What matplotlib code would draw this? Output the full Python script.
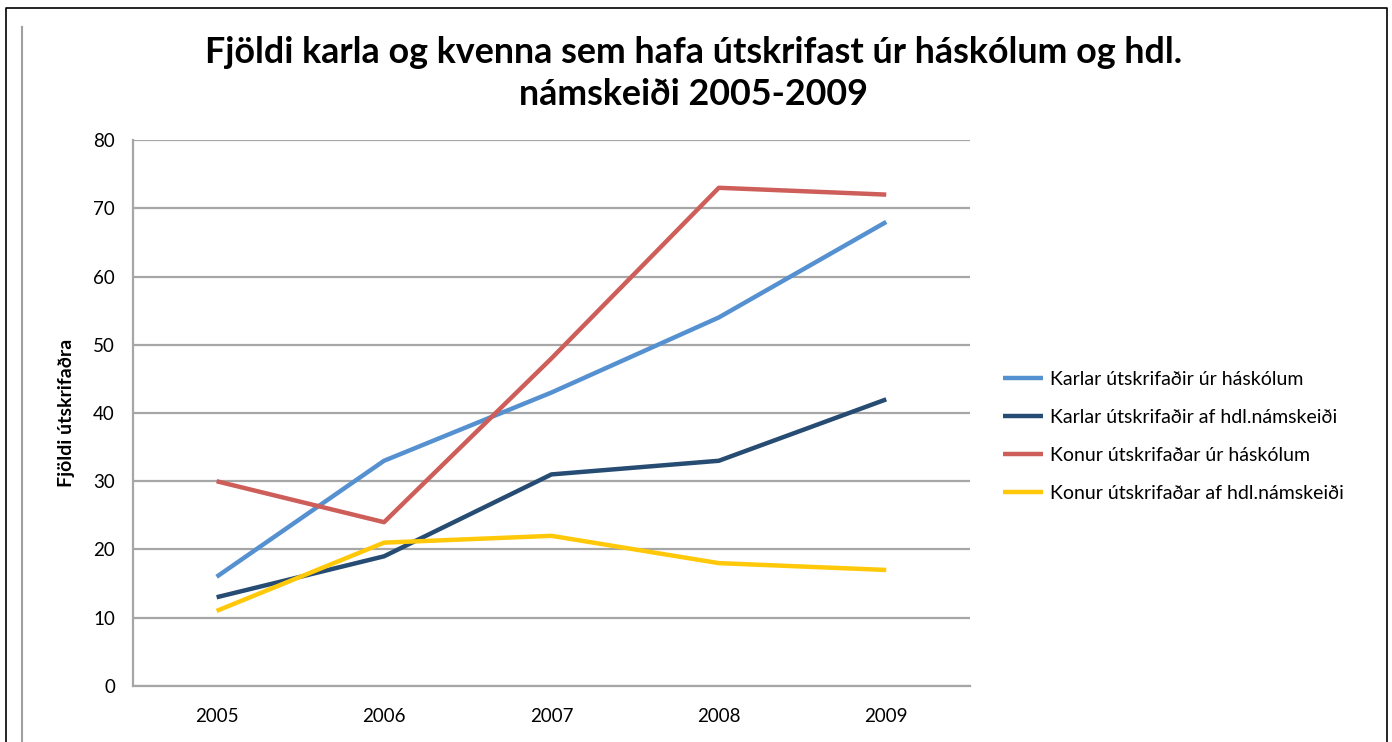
import matplotlib.pyplot as plt
from matplotlib.lines import Line2D

plt.rcParams['font.family'] = ['Lato', 'DejaVu Sans']

years = ['2005', '2006', '2007', '2008', '2009']
karlar_haskolar = [16, 33, 43, 54, 68]
karlar_hdl = [13, 19, 31, 33, 42]
konur_haskolar = [30, 24, 48, 73, 72]
konur_hdl = [11, 21, 22, 18, 17]

series = [
    ('Karlar útskrifaðir úr háskólum', karlar_haskolar, '#5591D0'),
    ('Karlar útskrifaðir af hdl.námskeiði', karlar_hdl, '#264C73'),
    ('Konur útskrifaðar úr háskólum', konur_haskolar, '#CD5E59'),
    ('Konur útskrifaðar af hdl.námskeiði', konur_hdl, '#FFC808'),
]

fig = plt.figure(figsize=(13.92, 7.42), dpi=100)
ax = fig.add_axes([0.0955, 0.0755, 0.6013, 0.7358])

x = range(len(years))
for label, vals, col in series:
    ax.plot(x, vals, color=col, lw=3.2, label=label, solid_capstyle='butt')

ax.set_xlim(-0.5, len(years) - 0.5)
ax.set_ylim(0, 80)
ax.set_yticks(range(0, 81, 10))
ax.set_xticks(list(x))
ax.set_xticklabels(years)
ax.yaxis.grid(True, color='#A6A6A6', lw=1.6)
ax.set_axisbelow(True)
for s in ['top', 'right']:
    ax.spines[s].set_visible(False)
for s in ['left', 'bottom']:
    ax.spines[s].set_color('#A6A6A6')
    ax.spines[s].set_linewidth(1.6)
ax.tick_params(length=0, labelsize=13.5, pad=13)
ax.tick_params(axis='x', pad=16)
ax.set_ylabel('Fjöldi útskrifaðra', fontsize=14, fontweight='bold', labelpad=13)

fig.text(0.498, 0.901, 'Fjöldi karla og kvenna sem hafa útskrifast úr háskólum og hdl.\nnámskeiði 2005-2009',
         ha='center', va='center', fontsize=25.8, fontweight='bold', linespacing=1.3)

ax.legend(loc='center left', bbox_to_anchor=(0.7205, 0.4117), bbox_transform=fig.transFigure,
          frameon=False, fontsize=14, handlelength=2.05, handletextpad=0.35, labelspacing=1.08,
          borderpad=0, borderaxespad=0)

# outer frame and left rule
fig.add_artist(Line2D([6/1392, 6/1392, 1387/1392, 1387/1392], [0, 1 - 8/742, 1 - 8/742, 0],
                      color='black', lw=1.2, transform=fig.transFigure))
fig.add_artist(Line2D([22/1392, 22/1392], [0, 1 - 27/742], color='#A0A0A0', lw=1.5,
                      transform=fig.transFigure))

fig.savefig('out.png', dpi=100)
